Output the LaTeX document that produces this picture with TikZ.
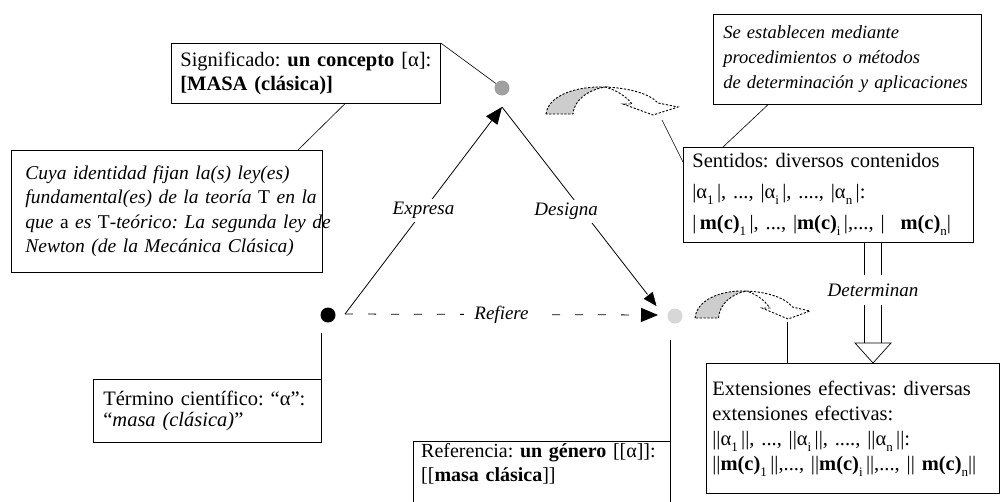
\documentclass[tikz,border=0pt]{standalone}
\usepackage{fontspec}
\setmainfont{Liberation Serif}
\usetikzlibrary{arrows.meta}
\definecolor{dotgray}{RGB}{160,160,160}
\definecolor{dotlight}{RGB}{215,215,215}
\definecolor{ribbon}{RGB}{205,205,205}
\newcommand{\sbs}[1]{\raisebox{-6pt}{\fontsize{13}{13}\selectfont #1}}
\newcommand{\jline}[1]{\makebox[\linewidth][s]{#1}}
\frenchspacing
\begin{document}
\begin{tikzpicture}[x=1pt,y=-1pt,
  every node/.style={font=\fontsize{20.5}{24}\selectfont},
  box/.style={draw, line width=0.7pt, anchor=north west, inner ysep=0pt, align=left},
  dot/.style={circle, inner sep=0pt, minimum size=15pt},
  lbl/.style={fill=white, inner sep=3pt, font=\fontsize{19}{22}\selectfont\itshape},
  conn/.style={line width=0.6pt},
  arr/.style={line width=0.8pt, -{Triangle[length=17pt,width=14pt]}},
  arrw/.style={line width=0.8pt, -{Triangle[length=17pt,width=14pt,color=white,fill=black]}},
  ribbonline/.style={line width=0.9pt, dash pattern=on 2.2pt off 1.6pt},
]
\useasboundingbox[fill=white] (0,0) rectangle (1000,501);

% boxes
\node[box, inner xsep=9pt, text width=251pt, minimum height=60pt] (sig) at (171,43)
  {\mbox{Significado: \textbf{un concepto} [α]:}\\ \textbf{[MASA (clásica)]}};
\node[box, inner xsep=14pt, text width=283pt, minimum height=122pt,
      font=\fontsize{19.5}{24.5}\selectfont\itshape] (cuya) at (11,150)
  {\jline{Cuya identidad fijan la(s) ley(es)}\\
   \jline{fundamental(es) de la teoría \textup{T} en la}\\
   \jline{que \textup{a} es \textup{T}-teórico: La segunda ley de}\\
   Newton (de la Mecánica Clásica)};
\node[box, inner xsep=10pt, text width=208pt, minimum height=63pt,
      font=\fontsize{20.5}{21}\selectfont] (term) at (93,379)
  {\mbox{Término científico: “α”:}\\ “\textit{masa (clásica)}”};
\node[anchor=north west, inner xsep=8pt, inner ysep=2pt, text width=241pt, align=left,
      font=\fontsize{20}{24}\selectfont] (ref) at (413,441)
  {\mbox{Referencia: \textbf{un género} [[α]]:}\\ \mbox{[[\textbf{masa clásica}]]}};
\node[box, inner xsep=10pt, text width=248pt, minimum height=90pt,
      font=\fontsize{18.5}{25}\selectfont\itshape] (set) at (713,14)
  {\mbox{Se establecen mediante}\\ \mbox{procedimientos o métodos}\\ \mbox{de determinación y aplicaciones}\\[5pt]};
\node[box, inner xsep=9pt, text width=272pt, minimum height=95pt,
      font=\fontsize{20.5}{31}\selectfont] (sen) at (683,147)
  {\mbox{Sentidos: diversos contenidos}\\
   \mbox{|α\sbs{1}\,|, ..., |α\sbs{i}\,|, ...., |α\sbs{n}\,|:}\\
   \mbox{|\,\textbf{m(c)}\sbs{1}\,|, ..., |\textbf{m(c)}\sbs{i}\,|,..., |\;\, \textbf{m(c)}\sbs{n}|}};
\node[box, inner xsep=6pt, text width=281pt, minimum height=130pt,
      font=\fontsize{20.5}{25}\selectfont] (ext) at (706,363)
  {\mbox{Extensiones efectivas: diversas}\\
   \mbox{extensiones efectivas:}\\
   \mbox{||α\sbs{1}\,||, ..., ||α\sbs{i}\,||, ...., ||α\sbs{n}\,||:}\\
   \mbox{||\textbf{m(c)}\sbs{1}\,||,..., ||\textbf{m(c)}\sbs{i}\,||,..., || \textbf{m(c)}\sbs{n}||}};

% Referencia box open at the bottom
\draw[conn] (ref.north west |- 0,505) -- (ref.north west) -- (ref.north east);

% dots
\node[dot, fill=black] (bdot) at (328,315) {};
\node[dot, fill=dotgray] (cdot) at (502,88) {};
\node[dot, fill=dotlight] (ldot) at (675,316) {};

% triangle connectors
\coordinate (pL) at ([shift={(17,-1)}]bdot.center);
\coordinate (pT) at ([shift={(0,19)}]cdot.center);
\coordinate (pD) at ([shift={(-17,-8)}]ldot.center);
\coordinate (pR) at ([shift={(-17,-1)}]ldot.center);
\draw[arr, dash pattern=on 8pt off 15pt] (pL) -- node[lbl, inner xsep=10pt] (lref) {Refiere} (pR);
\draw[arr] (pL) -- node[lbl] (lex) {Expresa} (pT);
\draw[arrw] (pT) -- node[lbl, pos=0.52, xshift=-17pt] (ldes) {Designa} (pD);

% leader lines
\draw[conn] (sig.north east) -- (cdot);
\draw[conn] ([xshift=174pt]sig.south west) -- ([xshift=287pt]cuya.north west);
\draw[conn] (term.north east) -- ++(0,-46);
\coordinate (lt) at ([shift={(-5,24)}]ldot.center);
\draw[conn] (lt) -- (lt |- 0,505);
\draw[conn] ([xshift=55pt]set.south west) -- ([xshift=40pt]sen.north west);
\coordinate (r1) at (662,120);
\draw[conn] (r1) -- ([yshift=-15pt]sen.north west);
\coordinate (r2) at (787,322);
\draw[conn] (r2) -- (r2 |- ext.north);

% curved ribbons
\begin{scope}[shift={(546,114)}]
  \draw[ribbonline, fill=ribbon] (0,0) .. controls (2,-18) and (29,-28) .. (59,-27)
     .. controls (42,-24) and (28,-14) .. (27,0) -- cycle;
  \draw[ribbonline, fill=white] (59,-27) .. controls (84,-26) and (104,-20) .. (112,-11)
     -- (132,-7) -- (107,1) -- (77,-10) -- (86,-10) .. controls (80,-18) and (70,-24) .. (59,-27) -- cycle;
\end{scope}
\begin{scope}[shift={(695,318)}, xscale=0.87]
  \draw[ribbonline, fill=ribbon] (0,0) .. controls (2,-18) and (29,-28) .. (59,-27)
     .. controls (42,-24) and (28,-14) .. (27,0) -- cycle;
  \draw[ribbonline, fill=white] (59,-27) .. controls (84,-26) and (104,-20) .. (112,-11)
     -- (132,-7) -- (107,1) -- (77,-10) -- (86,-10) .. controls (80,-18) and (70,-24) .. (59,-27) -- cycle;
\end{scope}

% Determinan double arrow
\node[lbl, inner ysep=8pt] (det) at (873,290) {Determinan};
\draw[line width=0.7pt, double distance=16pt] (sen.south -| det) -- (det.north);
\coordinate (th) at (det.south |- 0,343);
\draw[line width=0.7pt, double distance=16pt] (det.south) -- (th);
\draw[line width=0.7pt, fill=white] ([xshift=-18pt]th) -- ([xshift=18pt]th) -- ([yshift=-20pt]th) -- cycle;
\end{tikzpicture}
\end{document}
